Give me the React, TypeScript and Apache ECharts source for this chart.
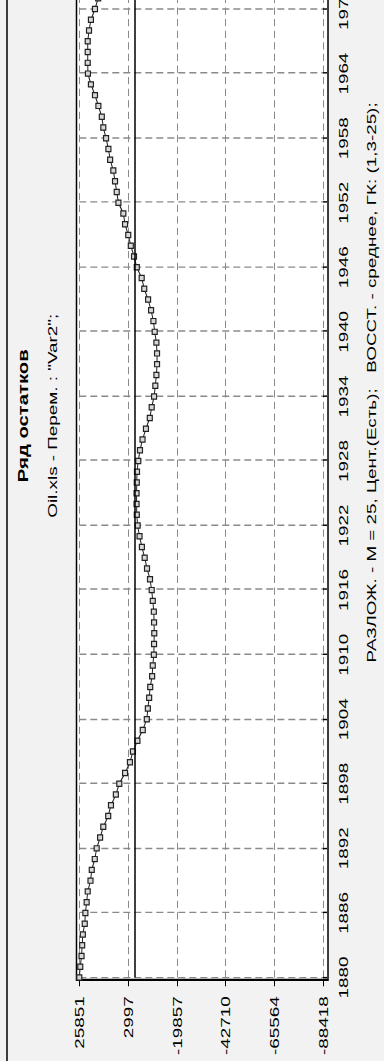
import React, { useEffect, useRef } from "react";
import * as echarts from "echarts";

// ---- data ----
const years: string[] = Array.from({ length: 92 }, (_, i) => String(1880 + i));

const residuals: number[] = [
  25851, 25400, 24800, 24500, 24200, 23300, 23000, 22400, 21900, 20600,
  20000, 18600, 17700, 16100, 14600, 12300, 11000, 8700, 7100, 4400,
  2100, 700, -1400, -3900, -5800, -6300, -6900, -7400, -8300, -8600,
  -9100, -9200, -9300, -9200, -9100, -8600, -8100, -7300, -5900, -4800,
  -3500, -2400, -1500, -1100, -1000, -1000, -1100, -1200, -1800, -2600,
  -3800, -5400, -7200, -8100, -9200, -9800, -10300, -10600, -10600, -10300,
  -9500, -8900, -7800, -6400, -4600, -3400, -1100, 200, 1700, 2900,
  4400, 5200, 7500, 8300, 9100, 9900, 11400, 12200, 13300, 14600,
  15300, 16900, 18500, 20400, 21800, 21900, 21900, 21900, 21300, 20400,
  18500, 17000,
];

const valueTickLabels: string[] = ["-88418", "-65564", "-42710", "-19857", "2997", "25851"];
const VMIN = -88418;
const VMAX = 25851;
const ZERO_LINE = 0;

const titleText = "Ряд остатков";
const subtitleText = 'Oil.xls - Перем. : "Var2";';
const axisTitleText = "РАЗЛОЖ. - M = 25, Цент.(Есть);   ВОССТ. - среднее, ГК: (1,3-25);";

const STRETCH = 1.45;
const CHART_W = 890;
const CHART_H = 384;

export default function App() {
  const ref = useRef<HTMLDivElement>(null);

  useEffect(() => {
    if (!ref.current) return;
    const chart = echarts.init(ref.current, undefined, { renderer: "svg" });
    const span = VMAX - VMIN;
    const interval = span / 5;
    const font = 'Arial, "Liberation Sans", sans-serif';
    chart.setOption({
      animation: false,
      backgroundColor: "#f2f2f2",
      textStyle: { fontFamily: font },
      title: [
        {
          text: titleText,
          left: "center",
          top: 11,
          textStyle: { fontSize: 14, fontWeight: "bold", color: "#000", fontFamily: font },
        },
        {
          text: subtitleText,
          left: "center",
          top: 41,
          textStyle: { fontSize: 13, fontWeight: "normal", color: "#000", fontFamily: font },
        },
        {
          text: axisTitleText,
          left: 463,
          textAlign: "center",
          top: 360,
          textStyle: { fontSize: 13, fontWeight: "normal", color: "#000", fontFamily: font },
        },
      ],
      grid: { left: 57.6, top: 79.3, width: 675.3, height: 243.7 },
      xAxis: {
        type: "category",
        data: years,
        boundaryGap: false,
        offset: 5,
        axisLine: { show: false },
        axisTick: { show: true, interval: 5, length: 4, lineStyle: { color: "#000" } },
        axisLabel: { interval: 5, margin: 9, fontSize: 13, color: "#000", fontFamily: font },
        splitLine: { show: true, interval: 5, lineStyle: { color: "#8a8a8a", type: [7, 4], width: 1 } },
      },
      yAxis: {
        type: "value",
        min: 0,
        max: span,
        interval: interval,
        offset: 2,
        axisLine: { show: false },
        axisTick: { show: true, length: 4, lineStyle: { color: "#000" } },
        axisLabel: {
          margin: 11,
          fontSize: 13,
          color: "#000",
          fontFamily: font,
          formatter: (v: number) => valueTickLabels[Math.round(v / interval)] ?? "",
        },
        splitLine: { show: true, lineStyle: { color: "#8a8a8a", type: [5, 3], width: 1 } },
      },
      graphic: [
        {
          type: "rect",
          z: -10,
          shape: { x: 55.9, y: 76.5, width: 900, height: 251.5 },
          style: { fill: "#ffffff", stroke: "#000", lineWidth: 1.5 },
        },
        {
          type: "line",
          z: -10,
          shape: { x1: 0, y1: 7, x2: 900, y2: 7 },
          style: { stroke: "#000", lineWidth: 1.5 },
        },
      ],
      series: [
        {
          type: "line",
          data: residuals.map((v) => v - VMIN),
          symbol: "rect",
          symbolSize: [3.6, 5],
          showSymbol: true,
          showAllSymbol: true,
          lineStyle: { color: "#222", width: 1 },
          itemStyle: { color: "#d8d8d8", borderColor: "#222", borderWidth: 1 },
          markLine: {
            silent: true,
            symbol: "none",
            label: { show: false },
            lineStyle: { color: "#000", type: "solid", width: 1.5 },
            data: [{ yAxis: ZERO_LINE - VMIN }],
          },
        },
      ],
    });
    return () => chart.dispose();
  }, []);

  return (
    <div
      style={{
        position: "fixed",
        left: 0,
        top: 0,
        width: 384,
        height: 1061,
        overflow: "hidden",
        background: "#f2f2f2",
      }}
    >
      <div
        style={{
          position: "absolute",
          left: 0,
          top: 0,
          width: 1061,
          height: CHART_H,
          overflow: "hidden",
          transformOrigin: "0 0",
          transform: "translate(0px, 1061px) rotate(-90deg)",
        }}
      >
        <div
          ref={ref}
          style={{
            position: "absolute",
            left: 0,
            top: 0,
            width: CHART_W,
            height: CHART_H,
            transformOrigin: "0 0",
            transform: `scaleX(${STRETCH})`,
          }}
        />
      </div>
    </div>
  );
}
